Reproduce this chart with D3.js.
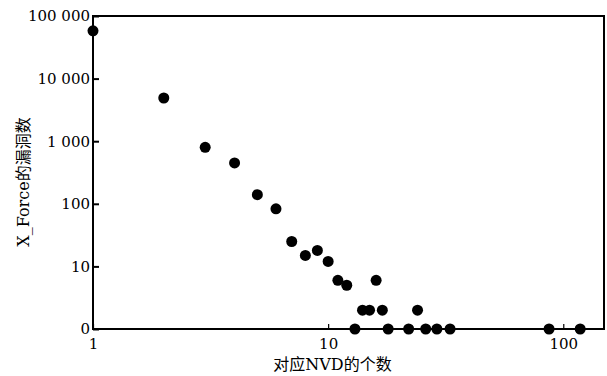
<!DOCTYPE html>
<html>
<head>
<meta charset="utf-8">
<script src="https://cdn.jsdelivr.net/npm/d3@7/dist/d3.min.js"></script>
<style>
  html, body { margin: 0; padding: 0; background: #fff; }
  .tick text { font-family: "DejaVu Serif", serif; font-size: 15px; fill: #000; }
  .title { font-family: "DejaVu Serif", "Noto Sans CJK SC", serif; font-size: 16px; fill: #000; }
</style>
</head>
<body>
<div id="chart"></div>
<script>
const width = 607, height = 376;
const margin = { top: 16, right: 3, bottom: 47, left: 93 };
const chartWidth = width - margin.left - margin.right;
const chartHeight = height - margin.top - margin.bottom;

// NVD count (x) vs. X_Force vulnerability count (y); "0" plotted on the 1 line
const nvdCounts = [1, 2, 3, 4, 5, 6, 7, 8, 9, 10, 11, 12, 13, 14, 15, 16, 17, 18, 22, 24, 26, 29, 33, 87, 118];
const xforceCounts = [58000, 4900, 800, 450, 140, 83, 25, 15, 18, 12, 6, 5, 1, 2, 2, 6, 2, 1, 1, 2, 1, 1, 1, 1, 1];

const xTicks = [1, 10, 100];
const xTickLabels = ['1', '10', '100'];
const yTicks = [1, 10, 100, 1000, 10000, 100000];
const yTickLabels = ['0', '10', '100', '1 000', '10 000', '100 000'];

const points = nvdCounts.map((x, i) => ({ x, y: xforceCounts[i] }));

const svg = d3.select('#chart')
  .append('svg')
  .attr('width', width)
  .attr('height', height)
  .append('g')
  .attr('transform', `translate(${margin.left},${margin.top})`);

const xScale = d3.scaleLog()
  .domain([1, 149])
  .range([0, chartWidth]);

const yScale = d3.scaleLog()
  .domain([1, 100000])
  .range([chartHeight, 0]);

const xAxis = d3.axisBottom(xScale)
  .tickValues(xTicks)
  .tickFormat((d, i) => xTickLabels[i])
  .tickSizeInner(-5)
  .tickSizeOuter(0)
  .tickPadding(9);

const yAxis = d3.axisLeft(yScale)
  .tickValues(yTicks)
  .tickFormat((d, i) => yTickLabels[i])
  .tickSizeInner(-6)
  .tickSizeOuter(0)
  .tickPadding(3);

const gx = svg.append('g')
  .attr('transform', `translate(0,${chartHeight})`)
  .call(xAxis)
  .attr('font-family', null);
gx.select('.domain').remove();
gx.selectAll('.tick line').attr('stroke', '#000').attr('stroke-width', 1.2);

const gy = svg.append('g')
  .call(yAxis)
  .attr('font-family', null);
gy.select('.domain').remove();
gy.selectAll('.tick line').attr('stroke', '#000').attr('stroke-width', 2);

// frame
svg.append('rect')
  .attr('x', 0)
  .attr('y', 0)
  .attr('width', chartWidth)
  .attr('height', chartHeight)
  .attr('fill', 'none')
  .attr('stroke', '#000')
  .attr('stroke-width', 2);

svg.selectAll('.dot')
  .data(points)
  .enter()
  .append('circle')
  .attr('class', 'dot')
  .attr('cx', d => xScale(d.x))
  .attr('cy', d => yScale(d.y))
  .attr('r', 5.5)
  .attr('fill', '#000');

svg.append('text')
  .attr('class', 'title')
  .attr('x', chartWidth / 2 - 16)
  .attr('y', chartHeight + 41)
  .attr('text-anchor', 'middle')
  .text('对应NVD的个数');

svg.append('text')
  .attr('class', 'title')
  .attr('transform', `translate(${-64},${166}) rotate(-90)`)
  .attr('text-anchor', 'middle')
  .text('X_Force的漏洞数');
</script>
</body>
</html>
